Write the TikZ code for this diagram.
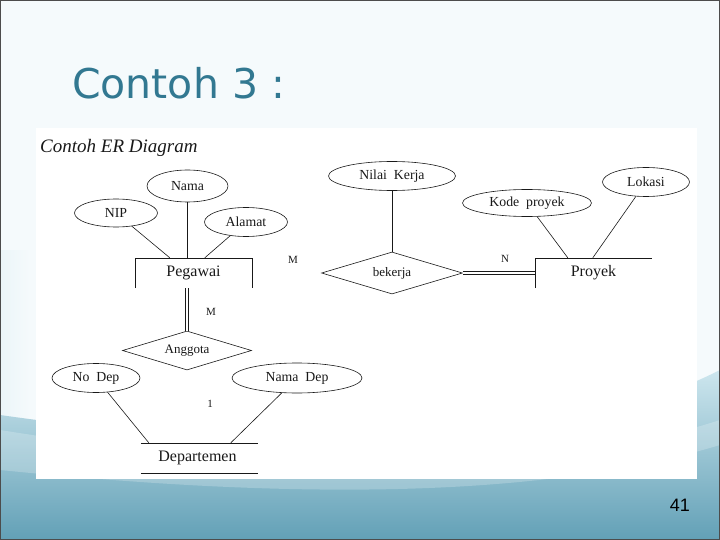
\documentclass[tikz,border=0pt]{standalone}
\usepackage{fontspec}
\setmainfont{Liberation Serif}
\newfontfamily\titlefont{DejaVu Sans}
\newfontfamily\numfont{Liberation Sans}
\usetikzlibrary{shapes.geometric,calc}
\definecolor{bgtop}{RGB}{245,250,252}
\definecolor{wavetop}{RGB}{205,230,238}
\definecolor{wavebot}{RGB}{98,160,182}
\definecolor{titleblue}{RGB}{50,120,145}
\definecolor{ink}{RGB}{25,25,25}
\tikzset{
  attr/.style={ellipse,draw=ink,line width=0.6pt,inner sep=0pt,font=\fontsize{13.8}{15}\selectfont,text=ink},
  rel/.style={diamond,draw=ink,line width=0.6pt,inner sep=0pt,aspect=3.4,font=\fontsize{13}{14}\selectfont,text=ink},
  ent/.style={rectangle,inner sep=0pt,minimum width=117pt,minimum height=30pt,font=\fontsize{16}{18}\selectfont,text=ink},
  card/.style={inner sep=0pt,font=\fontsize{11}{12}\selectfont,text=ink},
  conn/.style={draw=ink,line width=0.6pt},
  dconn/.style={draw=ink,line width=0.6pt,double=white,double distance=2.6pt}
}
\begin{document}
\begin{tikzpicture}[x=1pt,y=-1pt]
\useasboundingbox (0,0) rectangle (720,540);
% slide background
\fill[bgtop] (0,0) rectangle (720,540);
\shade[left color=white!60!wavetop,right color=bgtop] (0,250) rectangle (30,540);
\shade[top color=wavetop,bottom color=wavebot]
  (0,415) .. controls (250,450) and (520,470) .. (720,370) -- (720,540) -- (0,540) -- cycle;
\fill[white,opacity=0.22]
  (0,430) .. controls (250,470) and (520,485) .. (720,420) -- (720,445)
  .. controls (520,505) and (250,495) .. (0,470) -- cycle;
\draw[gray!60!black,line width=1pt] (0.5,0.5) rectangle (719.5,539.5);
% title and page number
\node[anchor=base west,inner sep=0pt,text=titleblue,font=\titlefont\fontsize{41}{45}\selectfont] (title) at (72,99) {Contoh 3 :};
\node[anchor=base east,inner sep=0pt,text=black,font=\numfont\fontsize{18}{20}\selectfont] (pagenum) at (690,511) {41};
% picture area
\fill[white] (36,128) rectangle (697,479);
\node[anchor=base west,inner sep=0pt,text=ink,font=\itshape\fontsize{19}{21}\selectfont] (cap) at (40,153) {Contoh ER Diagram};
% entities
\node[ent] (peg) at (193.5,273) {Pegawai};
\node[ent] (pro) at (593.5,273) {Proyek};
\node[ent] (dep) at (197.5,458) {Departemen};
\draw[conn] (peg.south west) -- (peg.north west) -- (peg.north east) -- (peg.south east);
\draw[conn] (pro.south west) -- (pro.north west) -- (pro.north east);
\draw[conn] ($(dep.north west)+(2,0)$) -- ($(dep.north east)+(2,0)$);
\draw[conn] ($(dep.south west)+(2,0)$) -- ($(dep.south east)+(2,0)$);
% attributes
\node[attr,minimum width=81pt,minimum height=32pt] (nama) at (187.5,186) {Nama};
\node[attr,minimum width=83pt,minimum height=28pt] (nip) at (116,213) {NIP};
\node[attr,minimum width=83pt,minimum height=29pt] (alamat) at (246,222) {Alamat};
\node[attr,minimum width=88pt,minimum height=29pt] (nodep) at (96,378) {No\ \ Dep};
\node[attr,minimum width=130pt,minimum height=30pt] (namadep) at (297,378) {Nama\ \ Dep};
\node[attr,minimum width=127pt,minimum height=29pt] (nk) at (392,176) {Nilai\ \ Kerja};
\node[attr,minimum width=129pt,minimum height=27pt] (kode) at (527,203) {Kode\ \ proyek};
\node[attr,minimum width=87pt,minimum height=29pt] (lok) at (646,182) {Lokasi};
% relationships
\node[rel,minimum width=129pt,minimum height=39pt] (ang) at (187,350.5) {Anggota};
\node[rel,minimum width=141pt,minimum height=42pt] (bek) at (392,273) {bekerja};
% cardinalities
\node[card] (m1) at (293,260) {M};
\node[card] (m2) at (211,312) {M};
\node[card] (n1) at (505,259) {N};
\node[card] (one) at (210,404) {1};
% attachment points
\coordinate (pegA) at ($(peg.north west)+(35,0)$);
\coordinate (pegC) at ($(peg.north west)+(70,0)$);
\coordinate (depA) at ($(dep.north west)+(10,0)$);
\coordinate (depB) at ($(dep.north west)+(92,0)$);
\coordinate (proA) at ($(pro.north west)+(33,0)$);
\coordinate (proB) at ($(pro.north west)+(58,0)$);
% connectors
\draw[conn] (nip) -- (pegA);
\draw[conn] (nama.south) -- (nama.south |- peg.north);
\draw[conn] (alamat) -- (pegC);
\draw[dconn] (ang.north |- peg.south) -- (ang.north);
\draw[conn] (nodep) -- (depA);
\draw[conn] (namadep) -- (depB);
\draw[conn] (nk.south) -- (bek.north);
\draw[dconn] (bek.east) -- (pro.west);
\draw[conn] (kode) -- (proA);
\draw[conn] (lok) -- (proB);
\end{tikzpicture}
\end{document}
